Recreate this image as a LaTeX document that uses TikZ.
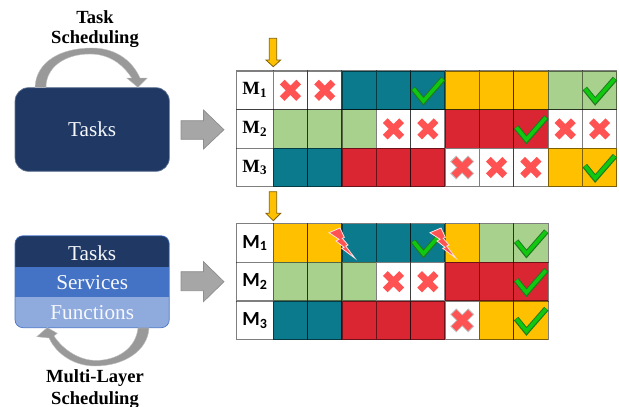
\documentclass[tikz,border=0pt]{standalone}
\usepackage{fontspec}
\setmainfont{Liberation Serif}
\newfontfamily\calfont{Carlito}
\definecolor{tealc}{HTML}{0A7A8C}
\definecolor{greenc}{HTML}{A9D18E}
\definecolor{redc}{HTML}{D92632}
\definecolor{yelc}{HTML}{FFC000}
\definecolor{navyc}{HTML}{1F3864}
\definecolor{bluec}{HTML}{4472C4}
\definecolor{lightc}{HTML}{8FAADC}
\definecolor{crossc}{HTML}{FF5252}
\definecolor{arrowc}{HTML}{A6A6A6}
\definecolor{ckin}{HTML}{10C810}
\definecolor{ckout}{HTML}{1F7A1F}
\tikzset{
  x=0.75pt,y=-0.75pt,
  cell/.style={rectangle,anchor=north west,inner sep=0pt,outer sep=0pt,minimum width=25.72pt,minimum height=28.95pt,draw=black,draw opacity=.5,line width=.8pt},
  cellw/.style={fill=white},
  cellt/.style={fill=tealc},
  cellg/.style={fill=greenc},
  cellr/.style={fill=redc},
  celly/.style={fill=yelc},
  celll/.style={fill=white,font=\fontsize{14}{14}\selectfont\bfseries,minimum width=27.6pt},
  lbl/.style={font=\fontsize{13.9}{13.9}\selectfont\bfseries,inner sep=0pt},
  layertxt/.style={font=\fontsize{15.9}{15.9}\selectfont,text=white!92!lightc,inner sep=0pt},
  blockarrow/.style={fill=arrowc,draw=arrowc!85!black,line width=.5pt},
  downarrow/.style={fill=yelc,draw=yelc!50!black,line width=.6pt},
  curved/.style={fill=arrowc!92!black,draw=arrowc!70!white,line width=.3pt},
  bolt/.style={fill=crossc,draw=white!85!crossc,line width=.6pt},
  xm/.pic={\draw[crossc,line width=5pt] (-8.2,-8.2)--(8.2,8.2) (-8.2,8.2)--(8.2,-8.2);},
  xh/.pic={\draw[black!25,line width=6.4pt] (-9,-9)--(9,9) (-9,9)--(9,-9);
           \draw[crossc,line width=5pt] (-8.2,-8.2)--(8.2,8.2) (-8.2,8.2)--(8.2,-8.2);},
  ck/.pic={\draw[line join=miter,draw=ckout,line width=4.3pt] (-14.8,-1.8)--(-4.4,11)--(15.4,-11.7);
           \draw[line join=miter,draw=ckin,line width=2.7pt] (-14.4,-1.5)--(-4.4,10.7)--(15,-11.3);},
}
\begin{document}
\begin{tikzpicture}
\useasboundingbox (0,0) rectangle (619,407);
% left boxes
\node[rectangle,rounded corners=10pt,fill=navyc,draw=navyc!70!white,line width=.5pt,minimum width=115.7pt,minimum height=62.7pt,inner sep=0pt,text=white!92!lightc,font=\fontsize{15.9}{15.9}\selectfont] (tbox) at (92.2,129.5) {Tasks};
\begin{scope}
\path[clip,rounded corners=6pt] (15,235.7) rectangle (169.3,327.7);
\fill[navyc] (15,235.7) rectangle (169.3,266.7);
\fill[bluec] (15,266.7) rectangle (169.3,297.3);
\fill[lightc] (15,297.3) rectangle (169.3,327.7);
\end{scope}
\draw[rounded corners=6pt,draw=bluec,line width=.5pt] (15,235.7) rectangle (169.3,327.7);
\node[layertxt] (ltasks) at (92.2,253) {Tasks};
\node[layertxt] (lserv) at (92.2,283) {Services};
\node[layertxt] (lfunc) at (92.2,312.5) {Functions};
% curved arrows
\draw[curved] (35,87.4) .. controls (36,62) and (60,48) .. (92,48) .. controls (115,48) and (132,60) .. (140,78) -- (147.3,78) -- (138,87.4) -- (126.7,78) -- (131.7,78) .. controls (122,63) and (108,54) .. (90,54) .. controls (65,54) and (46,67) .. (46,87.4) -- cycle;
\draw[curved] (149,327.9) .. controls (148,350) and (125,366) .. (95,366) .. controls (75,366) and (57,355) .. (49,338) -- (36.7,336.7) -- (47.3,327.5) -- (57.3,333.3) -- (54,336) .. controls (64,351) and (80,360) .. (95,360.5) .. controls (118,360.5) and (136,348) .. (138,327.9) -- cycle;
% labels
\node[lbl] (l1) at (95,17) {Task};
\node[lbl] (l2) at (95,39) {Scheduling};
\node[lbl] (l3) at (95,378) {Multi-Layer};
\node[lbl] (l4) at (95,400) {Scheduling};
% block arrows
\draw[blockarrow] (181,120.7) -- (203.5,120.7) -- (203.5,110) -- (224,129.7) -- (203.5,149) -- (203.5,139.3) -- (181,139.3) -- cycle;
\draw[blockarrow] (181,271.7) -- (203.5,271.7) -- (203.5,261.7) -- (224,281.7) -- (203.5,301.7) -- (203.5,290.7) -- (181,290.7) -- cycle;
% down arrows
\draw[downarrow] (269.3,38.3) -- (276.7,38.3) -- (276.7,60) -- (280.7,60) -- (273.3,66.7) -- (266,60) -- (269.3,60) -- cycle;
\draw[downarrow] (269.3,191.7) -- (276.7,191.7) -- (276.7,213.3) -- (280.7,213.3) -- (273.3,220.7) -- (266,213.3) -- (269.3,213.3) -- cycle;
% top grid
\foreach \r/\yy/\lab/\row in {
  1/71/1/{w,w,t,t,t,y,y,y,g,g},
  2/109.6/2/{g,g,g,w,w,r,r,r,w,w},
  3/148.2/3/{t,t,r,r,r,w,w,w,y,y}}{
  \node[cell,celll] (a-\r-0) at (236.5,\yy) {M\textsubscript{\lab}};
  \foreach \c [count=\i from 1] in \row {
    \node[cell,cell\c] (a-\r-\i) at ({273.3+34.35*(\i-1)},\yy) {};
  }
}
% bottom grid
\foreach \r/\yy/\lab/\row in {
  1/223.7/1/{y,y,t,t,t,y,g,g},
  2/262.4/2/{g,g,g,w,w,r,r,r},
  3/301.1/3/{t,t,r,r,r,w,y,y}}{
  \node[cell,celll,font=\calfont\fontsize{15}{15}\selectfont\bfseries] (b-\r-0) at (236.5,\yy) {M\textsubscript{\lab}};
  \foreach \c [count=\i from 1] in \row {
    \node[cell,cell\c] (b-\r-\i) at ({273.3+34.35*(\i-1)},\yy) {};
  }
}
% marks
\foreach \n in {a-1-1,a-1-2,a-2-4,a-2-5,a-2-9,a-2-10,a-3-7,a-3-8,b-2-4,b-2-5} \pic at (\n.center) {xm};
\foreach \n in {a-3-6,b-3-6} \pic at (\n.center) {xh};
\foreach \n in {a-1-5,a-1-10,a-2-8,a-3-10,b-1-5,b-1-8,b-2-8,b-3-8} \pic at (\n.center) {ck};
% lightning bolts
\foreach \dx in {0,101}{
\draw[bolt,shift={(\dx,0)}] (329,232.7) -- (340,228) -- (344.3,237.3) -- (342.3,238.3) -- (348,245) -- (345.7,246) -- (355,258.3) -- (341.7,248.3) -- (344,247.3) -- (336,241) -- (339,239.3) -- cycle;
}
\end{tikzpicture}
\end{document}
